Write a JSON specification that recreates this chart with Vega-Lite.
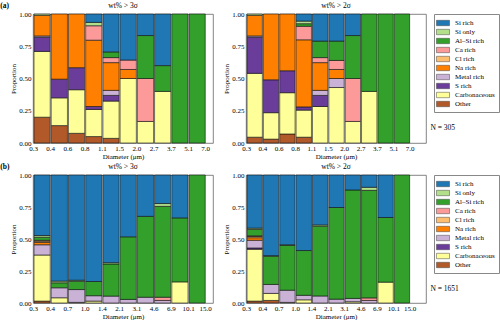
{
"$schema":"https://vega.github.io/schema/vega-lite/v6.json",
"padding":{"left":0,"top":1,"right":0,"bottom":1},
"data":{"values":[
{"p":"a3","i":0,"c":"Other","v":0.2},{"p":"a3","i":0,"c":"Carbonaceous","v":0.51},{"p":"a3","i":0,"c":"S rich","v":0.11},{"p":"a3","i":0,"c":"Metal rich","v":0.01},{"p":"a3","i":0,"c":"Na rich","v":0.16},{"p":"a3","i":0,"c":"Si only","v":0.01},
{"p":"a3","i":1,"c":"Other","v":0.135},{"p":"a3","i":1,"c":"Carbonaceous","v":0.215},{"p":"a3","i":1,"c":"S rich","v":0.145},{"p":"a3","i":1,"c":"Na rich","v":0.505},
{"p":"a3","i":2,"c":"Other","v":0.075},{"p":"a3","i":2,"c":"Carbonaceous","v":0.338},{"p":"a3","i":2,"c":"S rich","v":0.171},{"p":"a3","i":2,"c":"Na rich","v":0.416},
{"p":"a3","i":3,"c":"Other","v":0.05},{"p":"a3","i":3,"c":"Carbonaceous","v":0.21},{"p":"a3","i":3,"c":"S rich","v":0.023},{"p":"a3","i":3,"c":"Na rich","v":0.514},{"p":"a3","i":3,"c":"Ca rich","v":0.112},{"p":"a3","i":3,"c":"Si only","v":0.026},{"p":"a3","i":3,"c":"Si rich","v":0.065},
{"p":"a3","i":4,"c":"Other","v":0.036},{"p":"a3","i":4,"c":"Carbonaceous","v":0.289},{"p":"a3","i":4,"c":"S rich","v":0.044},{"p":"a3","i":4,"c":"Metal rich","v":0.039},{"p":"a3","i":4,"c":"Na rich","v":0.215},{"p":"a3","i":4,"c":"Ca rich","v":0.039},{"p":"a3","i":4,"c":"Al–Si rich","v":0.044},{"p":"a3","i":4,"c":"Si rich","v":0.294},
{"p":"a3","i":5,"c":"Carbonaceous","v":0.5},{"p":"a3","i":5,"c":"Na rich","v":0.07},{"p":"a3","i":5,"c":"Ca rich","v":0.073},{"p":"a3","i":5,"c":"Si rich","v":0.357},
{"p":"a3","i":6,"c":"Carbonaceous","v":0.167},{"p":"a3","i":6,"c":"Ca rich","v":0.333},{"p":"a3","i":6,"c":"Al–Si rich","v":0.333},{"p":"a3","i":6,"c":"Si rich","v":0.167},
{"p":"a3","i":7,"c":"Carbonaceous","v":0.4},{"p":"a3","i":7,"c":"Al–Si rich","v":0.2},{"p":"a3","i":7,"c":"Si rich","v":0.4},
{"p":"a3","i":8,"c":"Al–Si rich","v":1},{"p":"a3","i":9,"c":"Al–Si rich","v":1},
{"p":"a2","i":0,"c":"Other","v":0.045},{"p":"a2","i":0,"c":"Carbonaceous","v":0.495},{"p":"a2","i":0,"c":"S rich","v":0.28},{"p":"a2","i":0,"c":"Metal rich","v":0.01},{"p":"a2","i":0,"c":"Na rich","v":0.16},{"p":"a2","i":0,"c":"Si only","v":0.01},
{"p":"a2","i":1,"c":"Other","v":0.03},{"p":"a2","i":1,"c":"Carbonaceous","v":0.205},{"p":"a2","i":1,"c":"S rich","v":0.255},{"p":"a2","i":1,"c":"Na rich","v":0.51},
{"p":"a2","i":2,"c":"Other","v":0.07},{"p":"a2","i":2,"c":"Carbonaceous","v":0.32},{"p":"a2","i":2,"c":"S rich","v":0.17},{"p":"a2","i":2,"c":"Na rich","v":0.44},
{"p":"a2","i":3,"c":"Other","v":0.045},{"p":"a2","i":3,"c":"Carbonaceous","v":0.21},{"p":"a2","i":3,"c":"S rich","v":0.025},{"p":"a2","i":3,"c":"Na rich","v":0.52},{"p":"a2","i":3,"c":"Ca rich","v":0.105},{"p":"a2","i":3,"c":"Al–Si rich","v":0.02},{"p":"a2","i":3,"c":"Si only","v":0.02},{"p":"a2","i":3,"c":"Si rich","v":0.055},
{"p":"a2","i":4,"c":"Carbonaceous","v":0.283},{"p":"a2","i":4,"c":"S rich","v":0.086},{"p":"a2","i":4,"c":"Metal rich","v":0.039},{"p":"a2","i":4,"c":"Na rich","v":0.215},{"p":"a2","i":4,"c":"Ca rich","v":0.039},{"p":"a2","i":4,"c":"Al–Si rich","v":0.128},{"p":"a2","i":4,"c":"Si rich","v":0.21},
{"p":"a2","i":5,"c":"Carbonaceous","v":0.43},{"p":"a2","i":5,"c":"Metal rich","v":0.07},{"p":"a2","i":5,"c":"Na rich","v":0.07},{"p":"a2","i":5,"c":"Ca rich","v":0.07},{"p":"a2","i":5,"c":"Al–Si rich","v":0.15},{"p":"a2","i":5,"c":"Si rich","v":0.21},
{"p":"a2","i":6,"c":"Carbonaceous","v":0.167},{"p":"a2","i":6,"c":"Ca rich","v":0.333},{"p":"a2","i":6,"c":"Al–Si rich","v":0.333},{"p":"a2","i":6,"c":"Si rich","v":0.167},
{"p":"a2","i":7,"c":"Carbonaceous","v":0.4},{"p":"a2","i":7,"c":"Al–Si rich","v":0.6},
{"p":"a2","i":8,"c":"Al–Si rich","v":1},{"p":"a2","i":9,"c":"Al–Si rich","v":1},
{"p":"b3","i":0,"c":"Other","v":0.015},{"p":"b3","i":0,"c":"Carbonaceous","v":0.36},{"p":"b3","i":0,"c":"Metal rich","v":0.08},{"p":"b3","i":0,"c":"Na rich","v":0.018},{"p":"b3","i":0,"c":"Cl rich","v":0.01},{"p":"b3","i":0,"c":"Ca rich","v":0.007},{"p":"b3","i":0,"c":"Al–Si rich","v":0.024},{"p":"b3","i":0,"c":"Si only","v":0.013},{"p":"b3","i":0,"c":"Si rich","v":0.473},
{"p":"b3","i":1,"c":"Carbonaceous","v":0.041},{"p":"b3","i":1,"c":"Metal rich","v":0.078},{"p":"b3","i":1,"c":"Al–Si rich","v":0.039},{"p":"b3","i":1,"c":"Si only","v":0.013},{"p":"b3","i":1,"c":"Si rich","v":0.829},
{"p":"b3","i":2,"c":"Carbonaceous","v":0.005},{"p":"b3","i":2,"c":"Metal rich","v":0.1},{"p":"b3","i":2,"c":"Al–Si rich","v":0.065},{"p":"b3","i":2,"c":"Si only","v":0.008},{"p":"b3","i":2,"c":"Si rich","v":0.822},
{"p":"b3","i":3,"c":"Carbonaceous","v":0.015},{"p":"b3","i":3,"c":"Metal rich","v":0.042},{"p":"b3","i":3,"c":"Al–Si rich","v":0.111},{"p":"b3","i":3,"c":"Si rich","v":0.832},
{"p":"b3","i":4,"c":"Metal rich","v":0.054},{"p":"b3","i":4,"c":"Al–Si rich","v":0.251},{"p":"b3","i":4,"c":"Si only","v":0.01},{"p":"b3","i":4,"c":"Si rich","v":0.685},
{"p":"b3","i":5,"c":"Metal rich","v":0.028},{"p":"b3","i":5,"c":"Al–Si rich","v":0.489},{"p":"b3","i":5,"c":"Si rich","v":0.483},
{"p":"b3","i":6,"c":"Metal rich","v":0.045},{"p":"b3","i":6,"c":"Al–Si rich","v":0.632},{"p":"b3","i":6,"c":"Si rich","v":0.323},
{"p":"b3","i":7,"c":"Metal rich","v":0.02},{"p":"b3","i":7,"c":"Ca rich","v":0.025},{"p":"b3","i":7,"c":"Al–Si rich","v":0.71},{"p":"b3","i":7,"c":"Si only","v":0.022},{"p":"b3","i":7,"c":"Si rich","v":0.223},
{"p":"b3","i":8,"c":"Carbonaceous","v":0.165},{"p":"b3","i":8,"c":"Al–Si rich","v":0.5},{"p":"b3","i":8,"c":"Si rich","v":0.335},
{"p":"b3","i":9,"c":"Al–Si rich","v":1},
{"p":"b2","i":0,"c":"Other","v":0.015},{"p":"b2","i":0,"c":"Carbonaceous","v":0.405},{"p":"b2","i":0,"c":"S rich","v":0.01},{"p":"b2","i":0,"c":"Metal rich","v":0.06},{"p":"b2","i":0,"c":"Na rich","v":0.02},{"p":"b2","i":0,"c":"Cl rich","v":0.01},{"p":"b2","i":0,"c":"Ca rich","v":0.005},{"p":"b2","i":0,"c":"Al–Si rich","v":0.05},{"p":"b2","i":0,"c":"Si only","v":0.01},{"p":"b2","i":0,"c":"Si rich","v":0.415},
{"p":"b2","i":1,"c":"Other","v":0.02},{"p":"b2","i":1,"c":"Carbonaceous","v":0.055},{"p":"b2","i":1,"c":"Metal rich","v":0.07},{"p":"b2","i":1,"c":"Al–Si rich","v":0.22},{"p":"b2","i":1,"c":"Si only","v":0.005},{"p":"b2","i":1,"c":"Si rich","v":0.63},
{"p":"b2","i":2,"c":"Carbonaceous","v":0.005},{"p":"b2","i":2,"c":"Metal rich","v":0.095},{"p":"b2","i":2,"c":"Al–Si rich","v":0.35},{"p":"b2","i":2,"c":"Si only","v":0.005},{"p":"b2","i":2,"c":"Si rich","v":0.545},
{"p":"b2","i":3,"c":"Carbonaceous","v":0.025},{"p":"b2","i":3,"c":"Metal rich","v":0.035},{"p":"b2","i":3,"c":"Al–Si rich","v":0.35},{"p":"b2","i":3,"c":"Si rich","v":0.59},
{"p":"b2","i":4,"c":"Metal rich","v":0.055},{"p":"b2","i":4,"c":"Al–Si rich","v":0.545},{"p":"b2","i":4,"c":"Si only","v":0.01},{"p":"b2","i":4,"c":"Si rich","v":0.39},
{"p":"b2","i":5,"c":"Metal rich","v":0.03},{"p":"b2","i":5,"c":"Al–Si rich","v":0.716},{"p":"b2","i":5,"c":"Si rich","v":0.254},
{"p":"b2","i":6,"c":"Carbonaceous","v":0.01},{"p":"b2","i":6,"c":"Metal rich","v":0.026},{"p":"b2","i":6,"c":"Al–Si rich","v":0.847},{"p":"b2","i":6,"c":"Si rich","v":0.117},
{"p":"b2","i":7,"c":"Metal rich","v":0.02},{"p":"b2","i":7,"c":"Ca rich","v":0.02},{"p":"b2","i":7,"c":"Al–Si rich","v":0.84},{"p":"b2","i":7,"c":"Si only","v":0.024},{"p":"b2","i":7,"c":"Si rich","v":0.096},
{"p":"b2","i":8,"c":"Carbonaceous","v":0.163},{"p":"b2","i":8,"c":"Al–Si rich","v":0.505},{"p":"b2","i":8,"c":"Si rich","v":0.332},
{"p":"b2","i":9,"c":"Al–Si rich","v":1}
]},
"resolve":{"scale":{"color":"independent"}},
"spacing":2,
"vconcat":[
{"title":{"text":"(a)","anchor":"start","offset":-8,"dx":-9,"fontWeight":"bold","fontSize":7.5},
 "hconcat":[
 {"width":180,"height":129,"title":"wt% > 3σ","transform":[{"filter":"datum.p=='a3'"},{"calculate":"datum.i+1","as":"j"},{"calculate":"indexof(['Other','Carbonaceous','S rich','Metal rich','Na rich','Cl rich','Ca rich','Al–Si rich','Si only','Si rich'],datum.c)","as":"o"}],
   "mark":{"type":"bar","stroke":"#111","strokeWidth":0.6},
   "encoding":{
    "x":{"field":"i","type":"quantitative","bin":{"binned":true},"scale":{"domain":[0,10.45]},"axis":{"values":[0,1,2,3,4,5,6,7,8,9,10],"tickCount":11,"labelOverlap":false,"labelExpr":"['0.3','0.4','0.6','0.8','1.1','1.5','2.0','2.7','3.7','5.1','7.0'][datum.value]","title":"Diameter (μm)"}},
    "x2":{"field":"j"},
    "y":{"field":"v","type":"quantitative","stack":"zero","scale":{"domain":[0,1]},"axis":{"values":[0,0.25,0.5,0.75,1],"tickCount":5,"format":".2f","title":"Proportion"}},
    "color":{"field":"c","type":"nominal","scale":{"domain":["Si rich","Si only","Al–Si rich","Ca rich","Cl rich","Na rich","Metal rich","S rich","Carbonaceous","Other"],"range":["#1f78b4","#b2df8a","#33a02c","#fb9a99","#fdbf6f","#ff7f00","#cab2d6","#6a3d9a","#ffff99","#b15928"]},"legend":null},
    "order":{"field":"o","type":"quantitative"}}},
 {"width":180,"height":129,"title":"wt% > 2σ","layer":[
  {"transform":[{"filter":"datum.p=='a2'"},{"calculate":"datum.i+1","as":"j"},{"calculate":"indexof(['Other','Carbonaceous','S rich','Metal rich','Na rich','Cl rich','Ca rich','Al–Si rich','Si only','Si rich'],datum.c)","as":"o"}],
   "mark":{"type":"bar","stroke":"#111","strokeWidth":0.6},
   "encoding":{
    "x":{"field":"i","type":"quantitative","bin":{"binned":true},"scale":{"domain":[0,10.45]},"axis":{"values":[0,1,2,3,4,5,6,7,8,9,10],"tickCount":11,"labelOverlap":false,"labelExpr":"['0.3','0.4','0.6','0.8','1.1','1.5','2.0','2.7','3.7','5.1','7.0'][datum.value]","title":"Diameter (μm)"}},
    "x2":{"field":"j"},
    "y":{"field":"v","type":"quantitative","stack":"zero","scale":{"domain":[0,1]},"axis":{"values":[0,0.25,0.5,0.75,1],"tickCount":5,"format":".2f","title":"Proportion"}},
    "color":{"field":"c","type":"nominal","scale":{"domain":["Si rich","Si only","Al–Si rich","Ca rich","Cl rich","Na rich","Metal rich","S rich","Carbonaceous","Other"],"range":["#1f78b4","#b2df8a","#33a02c","#fb9a99","#fdbf6f","#ff7f00","#cab2d6","#6a3d9a","#ffff99","#b15928"]},
     "legend":{"orient":"right","offset":8,"title":null,"labelFontSize":7,"symbolType":"M-1.45,-0.6H1.45V0.6H-1.45Z","symbolSize":81,"symbolStrokeColor":"#444","symbolStrokeWidth":0.5,"strokeColor":"#888","padding":4,"rowPadding":0,"labelOffset":7}},
    "order":{"field":"o","type":"quantitative"}}},
  {"data":{"values":[{"t":"N = 305"}]},"mark":{"type":"text","fontSize":7.5,"align":"left"},"encoding":{"x":{"datum":11.27},"y":{"datum":0.119},"text":{"field":"t"}}}
 ]}
],"spacing":8,"resolve":{"scale":{"color":"independent"}}},
{"title":{"text":"(b)","anchor":"start","offset":-8,"dx":-9,"fontWeight":"bold","fontSize":7.5},
 "hconcat":[
 {"width":180,"height":128,"title":"wt% > 3σ","transform":[{"filter":"datum.p=='b3'"},{"calculate":"datum.i+1","as":"j"},{"calculate":"indexof(['Other','Carbonaceous','S rich','Metal rich','Na rich','Cl rich','Ca rich','Al–Si rich','Si only','Si rich'],datum.c)","as":"o"}],
   "mark":{"type":"bar","stroke":"#111","strokeWidth":0.6},
   "encoding":{
    "x":{"field":"i","type":"quantitative","bin":{"binned":true},"scale":{"domain":[0,10.45]},"axis":{"values":[0,1,2,3,4,5,6,7,8,9,10],"tickCount":11,"labelOverlap":false,"labelExpr":"['0.3','0.4','0.7','1.0','1.4','2.1','3.1','4.6','6.9','10.1','15.0'][datum.value]","title":"Diameter (μm)"}},
    "x2":{"field":"j"},
    "y":{"field":"v","type":"quantitative","stack":"zero","scale":{"domain":[0,1]},"axis":{"values":[0,0.25,0.5,0.75,1],"tickCount":5,"format":".2f","title":"Proportion"}},
    "color":{"field":"c","type":"nominal","scale":{"domain":["Si rich","Si only","Al–Si rich","Ca rich","Cl rich","Na rich","Metal rich","S rich","Carbonaceous","Other"],"range":["#1f78b4","#b2df8a","#33a02c","#fb9a99","#fdbf6f","#ff7f00","#cab2d6","#6a3d9a","#ffff99","#b15928"]},"legend":null},
    "order":{"field":"o","type":"quantitative"}}},
 {"width":180,"height":128,"title":"wt% > 2σ","layer":[
  {"transform":[{"filter":"datum.p=='b2'"},{"calculate":"datum.i+1","as":"j"},{"calculate":"indexof(['Other','Carbonaceous','S rich','Metal rich','Na rich','Cl rich','Ca rich','Al–Si rich','Si only','Si rich'],datum.c)","as":"o"}],
   "mark":{"type":"bar","stroke":"#111","strokeWidth":0.6},
   "encoding":{
    "x":{"field":"i","type":"quantitative","bin":{"binned":true},"scale":{"domain":[0,10.45]},"axis":{"values":[0,1,2,3,4,5,6,7,8,9,10],"tickCount":11,"labelOverlap":false,"labelExpr":"['0.3','0.4','0.7','1.0','1.4','2.1','3.1','4.6','6.9','10.1','15.0'][datum.value]","title":"Diameter (μm)"}},
    "x2":{"field":"j"},
    "y":{"field":"v","type":"quantitative","stack":"zero","scale":{"domain":[0,1]},"axis":{"values":[0,0.25,0.5,0.75,1],"tickCount":5,"format":".2f","title":"Proportion"}},
    "color":{"field":"c","type":"nominal","scale":{"domain":["Si rich","Si only","Al–Si rich","Ca rich","Cl rich","Na rich","Metal rich","S rich","Carbonaceous","Other"],"range":["#1f78b4","#b2df8a","#33a02c","#fb9a99","#fdbf6f","#ff7f00","#cab2d6","#6a3d9a","#ffff99","#b15928"]},
     "legend":{"orient":"right","offset":8,"title":null,"labelFontSize":7,"symbolType":"M-1.45,-0.6H1.45V0.6H-1.45Z","symbolSize":81,"symbolStrokeColor":"#444","symbolStrokeWidth":0.5,"strokeColor":"#888","padding":4,"rowPadding":0,"labelOffset":7}},
    "order":{"field":"o","type":"quantitative"}}},
  {"data":{"values":[{"t":"N = 1651"}]},"mark":{"type":"text","fontSize":7.5,"align":"left"},"encoding":{"x":{"datum":11.27},"y":{"datum":0.11},"text":{"field":"t"}}}
 ]}
],"spacing":8,"resolve":{"scale":{"color":"independent"}}}
],
"config":{
 "font":"Liberation Serif",
 "view":{"stroke":"#666","strokeWidth":0.8},
 "axis":{"grid":false,"domain":false,"ticks":false,"tickSize":0,"labelFontSize":7,"titleFontSize":7,"titleFontWeight":"normal","labelColor":"#000","titleColor":"#000","labelOverlap":false,"labelFlush":false},
 "axisX":{"labelPadding":1,"titlePadding":1},
 "axisY":{"labelPadding":2,"titlePadding":2},
 "title":{"fontSize":7.5,"fontWeight":"normal","offset":1},
 "text":{"font":"Liberation Serif"}
}
}
